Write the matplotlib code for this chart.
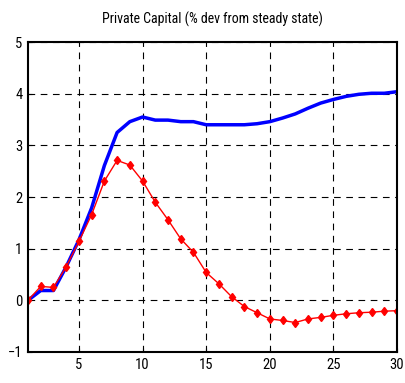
import numpy as np
import matplotlib.pyplot as plt
from matplotlib import font_manager

# pick a narrow font if one is installed
names = {f.name for f in font_manager.fontManager.ttflist}
narrow = [n for n in ['Liberation Sans Narrow', 'Arial Narrow', 'Roboto Condensed',
                      'Open Sans Condensed', 'DejaVu Sans Condensed', 'Liberation Sans']
          if n in names]
plt.rcParams['font.family'] = narrow[:1] + ['DejaVu Sans']

t = np.arange(1, 31)
blue = [0, 0.19, 0.19, 0.65, 1.17, 1.79, 2.61, 3.25, 3.46, 3.55,
        3.49, 3.49, 3.46, 3.46, 3.40, 3.40, 3.40, 3.40, 3.42, 3.46,
        3.53, 3.61, 3.72, 3.82, 3.89, 3.95, 3.99, 4.01, 4.01, 4.04]
red = [0, 0.27, 0.25, 0.65, 1.14, 1.66, 2.31, 2.71, 2.62, 2.31,
       1.90, 1.56, 1.19, 0.93, 0.54, 0.32, 0.07, -0.12, -0.24, -0.36,
       -0.39, -0.43, -0.36, -0.33, -0.29, -0.26, -0.24, -0.23, -0.21, -0.20]

fig = plt.figure(figsize=(4.06, 3.83), dpi=100)
ax = fig.add_axes([0.069, 0.081, 0.909, 0.809])

ax.plot(t, blue, color='blue', linewidth=2.5)
ax.plot(t, red, color='red', linewidth=1, marker='d', markersize=4.5)

ax.set_xlim(1, 30)
ax.set_ylim(-1, 5)
ax.set_xticks([5, 10, 15, 20, 25, 30])
ax.set_yticks([-1, 0, 1, 2, 3, 4, 5])
ax.grid(True, color='black', linestyle=(0, (6, 5)), linewidth=0.8)
ax.tick_params(direction='in', length=3, labelsize=10.5, pad=4)
for s in ax.spines.values():
    s.set_linewidth(1.5)
ax.set_title('Private Capital (% dev from steady state)', fontsize=10, pad=13)

fig.savefig('out.png')
